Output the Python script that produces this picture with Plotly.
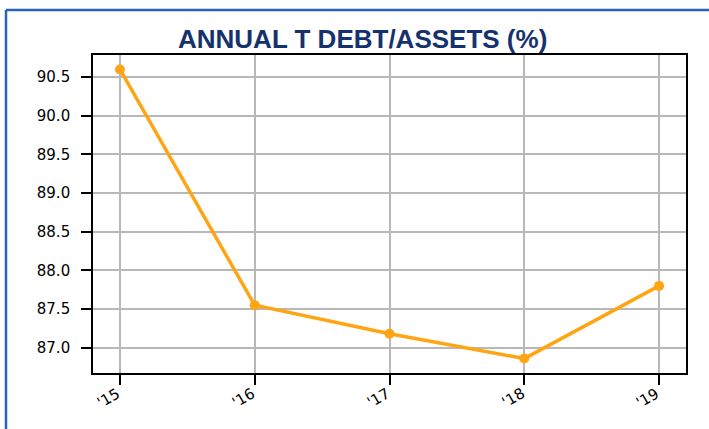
import plotly.graph_objects as go

years = ["'15", "'16", "'17", "'18", "'19"]
values = [90.6, 87.55, 87.18, 86.86, 87.8]
y_ticks = [87.0, 87.5, 88.0, 88.5, 89.0, 89.5, 90.0, 90.5]
title_text = "ANNUAL T DEBT/ASSETS (%)"

W, H = 709, 429
L0, T0, R0, B0 = 93, 55, 686, 373  # plot area in pixel coords
L, T = L0, T0
pw, ph = R0 - L0, B0 - T0
R = W - L - pw
B = H - T - ph

def px(x):
    return (x - L) / pw

def py(y):
    return (H - B - y) / ph

tick_font = dict(family="DejaVu Sans", size=15, color="black")

fig = go.Figure()
fig.add_trace(go.Scatter(
    x=list(range(len(years))), y=values, mode="lines+markers",
    line=dict(color="#FFA514", width=3.5),
    marker=dict(color="#FFA514", size=10),
    showlegend=False, hoverinfo="skip",
))

axis_common = dict(
    showline=True, linecolor="black", linewidth=1.6, mirror=True,
    ticks="outside", ticklen=10, tickwidth=1.6, tickcolor="black",
    showgrid=True, gridcolor="#b8b8b8", gridwidth=1.6, zeroline=False,
    tickfont=tick_font,
)

annotations = [dict(
    text=f"<b>{title_text}</b>", xref="paper", yref="paper",
    x=px(362), y=py(39), xanchor="center", yanchor="middle",
    showarrow=False,
    font=dict(family="Liberation Sans", size=26, color="#16326e"),
)]
for i, lab in enumerate(years):
    annotations.append(dict(
        text=lab, xref="x", yref="paper", x=i, y=py(382),
        xanchor="right", yanchor="top", xshift=6, textangle=-30,
        showarrow=False, font=tick_font,
    ))

fig.update_layout(
    width=W, height=H,
    margin=dict(l=L, r=R, t=T, b=B),
    paper_bgcolor="white", plot_bgcolor="white",
    xaxis=dict(range=[-0.2, 4.2], tickmode="array",
               tickvals=list(range(len(years))), showticklabels=False,
               **axis_common),
    yaxis=dict(range=[86.673, 90.787], tickmode="array",
               tickvals=y_ticks, ticktext=[f"{v:.1f}" for v in y_ticks],
               ticklabelstandoff=8, **axis_common),
    annotations=annotations,
    shapes=[
        dict(type="line", xref="paper", yref="paper",
             x0=px(6), x1=px(6), y0=py(440), y1=py(10),
             line=dict(color="#2a62b8", width=2.5)),
        dict(type="line", xref="paper", yref="paper",
             x0=px(6), x1=px(720), y0=py(10), y1=py(10),
             line=dict(color="#2a62b8", width=2.5)),
    ],
)

fig.write_html("out.html", config={"displayModeBar": False},
               post_script="document.body.style.margin='0';document.body.style.overflow='hidden';")
